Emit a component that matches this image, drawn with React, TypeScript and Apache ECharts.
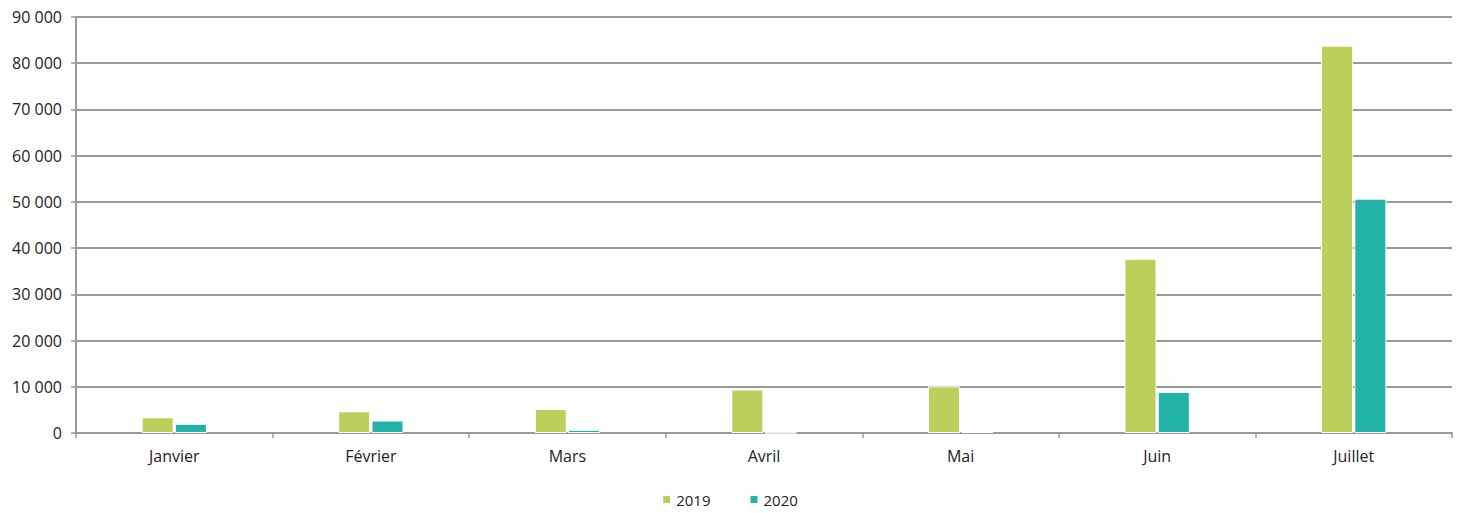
import React, { useEffect, useRef } from "react";
import * as echarts from "echarts";

const categories = ["Janvier", "Février", "Mars", "Avril", "Mai", "Juin", "Juillet"];
const series2019 = [3400, 4700, 5200, 9400, 10100, 37700, 83800];
const series2020 = [2000, 2700, 700, 50, 300, 8900, 50700];
const seriesNames = ["2019", "2020"];
const yTicks = { min: 0, max: 90000, interval: 10000 };

const fmt = (v: number) => String(v).replace(/\B(?=(\d{3})+(?!\d))/g, " ");

export default function App() {
  const ref = useRef<HTMLDivElement>(null);
  useEffect(() => {
    if (!ref.current) return;
    const chart = echarts.init(ref.current, null, { renderer: "svg" });
    const font = "'Open Sans', 'Noto Sans', sans-serif";
    chart.setOption({
      animation: false,
      backgroundColor: "#ffffff",
      textStyle: { fontFamily: font },
      grid: { left: 76, right: 7, top: 17, bottom: 80, containLabel: false },
      legend: {
        top: 490,
        left: "center",
        padding: [2, 5, 2, 5],
        itemWidth: 9,
        itemHeight: 9,
        itemGap: 38,
        icon: "rect",
        textStyle: { fontSize: 15, color: "#222", fontFamily: font },
        data: seriesNames,
      },
      xAxis: {
        type: "category",
        data: categories,
        boundaryGap: true,
        axisLine: { lineStyle: { color: "#999", width: 2 } },
        axisTick: { show: true, length: 5, lineStyle: { color: "#999", width: 1.5 } },
        axisLabel: { fontSize: 16, color: "#222", margin: 15, fontFamily: font },
      },
      yAxis: {
        type: "value",
        min: yTicks.min,
        max: yTicks.max,
        interval: yTicks.interval,
        axisLine: { show: true, lineStyle: { color: "#999", width: 2 } },
        axisTick: { show: true, length: 5, lineStyle: { color: "#999", width: 1.5 } },
        splitLine: { show: true, lineStyle: { color: "#999", width: 2 } },
        axisLabel: { fontSize: 16, color: "#222", margin: 14, formatter: (v: number) => fmt(v), fontFamily: font },
      },
      series: [
        {
          name: seriesNames[0],
          type: "bar",
          data: series2019,
          barWidth: 32,
          barGap: "4%",
          itemStyle: { color: "#BBCF5B", borderColor: "#ffffff", borderWidth: 1 },
        },
        {
          name: seriesNames[1],
          type: "bar",
          data: series2020,
          barWidth: 32,
          itemStyle: { color: "#22B2A8", borderColor: "#ffffff", borderWidth: 1 },
        },
      ],
    });
    return () => chart.dispose();
  }, []);
  return (
    <div
      ref={ref}
      style={{ position: "fixed", left: 0, top: 0, width: 1459, height: 513, background: "#fff" }}
    />
  );
}
